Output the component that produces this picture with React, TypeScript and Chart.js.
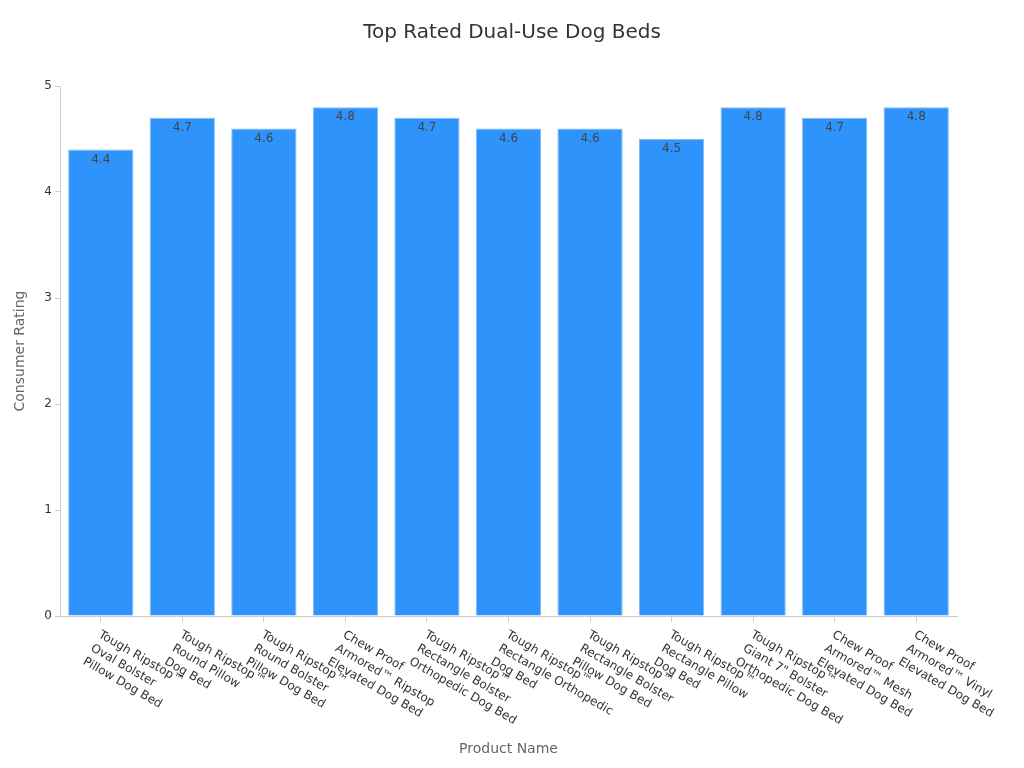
import React, { useEffect, useRef } from "react";
import { Chart, registerables } from "chart.js";

Chart.register(...registerables);

const categories: string[][] = [
  ["Tough Ripstop™", "Oval Bolster", "Pillow Dog Bed"],
  ["Tough Ripstop™", "Round Pillow", "Dog Bed"],
  ["Tough Ripstop™", "Round Bolster", "Pillow Dog Bed"],
  ["Chew Proof", "Armored™ Ripstop", "Elevated Dog Bed"],
  ["Tough Ripstop™", "Rectangle Bolster", "Orthopedic Dog Bed"],
  ["Tough Ripstop™", "Rectangle Orthopedic", "Dog Bed"],
  ["Tough Ripstop™", "Rectangle Bolster", "Pillow Dog Bed"],
  ["Tough Ripstop™", "Rectangle Pillow", "Dog Bed"],
  ["Tough Ripstop™", "Giant 7\" Bolster", "Orthopedic Dog Bed"],
  ["Chew Proof", "Armored™ Mesh", "Elevated Dog Bed"],
  ["Chew Proof", "Armored™ Vinyl", "Elevated Dog Bed"],
];

const ratings: number[] = [4.4, 4.7, 4.6, 4.8, 4.7, 4.6, 4.6, 4.5, 4.8, 4.7, 4.8];

const titleText = "Top Rated Dual-Use Dog Beds";
const xTitle = "Product Name";
const yTitle = "Consumer Rating";

const FONT = "'DejaVu Sans', sans-serif";

const pageTitle = {
  id: "pageTitle",
  afterDraw(chart: any) {
    const ctx = chart.ctx;
    ctx.save();
    ctx.font = `20px ${FONT}`;
    ctx.fillStyle = "#333";
    ctx.textAlign = "center";
    ctx.textBaseline = "middle";
    ctx.fillText(titleText, chart.width / 2, 33);
    ctx.restore();
  },
};

const rotatedLabels = {
  id: "rotatedLabels",
  afterDraw(chart: any) {
    const ctx = chart.ctx;
    const xs = chart.scales.x;
    ctx.save();
    ctx.font = `12px ${FONT}`;
    ctx.fillStyle = "#333";
    ctx.textAlign = "left";
    ctx.textBaseline = "middle";
    categories.forEach((lines, i) => {
      const x = xs.getPixelForTick(i);
      const y = xs.top + 18;
      ctx.save();
      ctx.translate(x - 1.5, y);
      ctx.rotate((30 * Math.PI) / 180);
      lines.forEach((ln, j) => {
        ctx.fillText(ln, 0, j * 15.5);
      });
      ctx.restore();
    });
    ctx.restore();
  },
};

const valueLabels = {
  id: "valueLabels",
  afterDatasetsDraw(chart: any) {
    const ctx = chart.ctx;
    const meta = chart.getDatasetMeta(0);
    ctx.save();
    ctx.font = `12px ${FONT}`;
    ctx.fillStyle = "#444";
    ctx.textAlign = "center";
    ctx.textBaseline = "middle";
    meta.data.forEach((bar: any, i: number) => {
      ctx.fillText(String(ratings[i]), bar.x, bar.y + 10);
    });
    ctx.restore();
  },
};

export default function App() {
  const ref = useRef<HTMLCanvasElement | null>(null);
  useEffect(() => {
    document.body.style.margin = "0";
    Chart.defaults.font.family = FONT;
    const chart = new Chart(ref.current as HTMLCanvasElement, {
      type: "bar",
      data: {
        labels: categories.map((c) => c.join(" ")),
        datasets: [
          {
            data: ratings,
            backgroundColor: "#2E93FA",
            borderColor: "#7DBBFB",
            borderWidth: 1,
            categoryPercentage: 0.8,
            barPercentage: 1,
          },
        ],
      },
      options: {
        animation: false,
        responsive: false,
        maintainAspectRatio: false,
        layout: { padding: { top: 86, left: 8, right: 67, bottom: 6 } },
        plugins: {
          legend: { display: false },
          tooltip: { enabled: false },
          title: { display: false },
        },
        scales: {
          x: {
            grid: {
              display: true,
              offset: false,
              drawOnChartArea: false,
              drawTicks: true,
              tickLength: 6,
              color: "#ccc",
            },
            border: { color: "#ccc" },
            ticks: { display: false },
            title: {
              display: true,
              text: xTitle,
              color: "#666",
              font: { size: 14, family: FONT },
              padding: 4,
            },
            afterFit: (scale: any) => {
              scale.height = 146;
            },
          },
          y: {
            min: 0,
            max: 5,
            grid: { display: true, drawOnChartArea: false, drawTicks: true, tickLength: 5, color: "#ccc" },
            border: { color: "#ccc" },
            ticks: {
              stepSize: 1,
              color: "#333",
              font: { size: 12, family: FONT },
              padding: 3,
            },
            title: {
              display: true,
              text: yTitle,
              color: "#666",
              font: { size: 14, family: FONT },
              padding: 4,
            },
            afterFit: (scale: any) => {
              scale.width = 52;
            },
          },
        },
      },
      plugins: [pageTitle, rotatedLabels, valueLabels],
    });
    return () => chart.destroy();
  }, []);
  return (
    <div style={{ width: 1024, height: 768 }}>
      <canvas ref={ref} width={1024} height={768} style={{ display: "block" }} />
    </div>
  );
}
